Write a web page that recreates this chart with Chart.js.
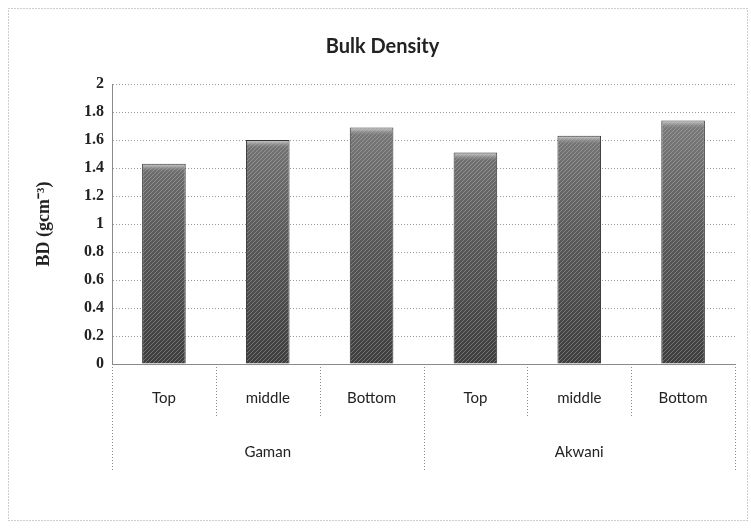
<!DOCTYPE html>
<html>
<head>
<meta charset="utf-8">
<script src="https://cdn.jsdelivr.net/npm/chart.js@4/dist/chart.umd.min.js"></script>
<style>
  html, body { margin: 0; padding: 0; background: #fff; }
  #wrap { width: 751px; height: 528px; }
</style>
</head>
<body>
<div id="wrap"><canvas id="bd-chart" width="751" height="528"></canvas></div>
<script>
// sampling depths and sites
const categories = ['Top', 'middle', 'Bottom', 'Top', 'middle', 'Bottom'];
const groups = ['Gaman', 'Akwani'];
const groupSize = 3;
// bulk density, g/cm3
const bulkDensity = [1.43, 1.60, 1.69, 1.51, 1.63, 1.74];
const yMin = 0, yMax = 2, yStep = 0.2;

// grey halftone-ish fill: darker at the base, diagonal hatch on top
function barFill(chart) {
  const area = chart.chartArea;
  if (!area) return '#707070';
  const tile = document.createElement('canvas');
  tile.width = 16;
  tile.height = chart.height;
  const t = tile.getContext('2d');
  const g = t.createLinearGradient(0, area.bottom, 0, area.top);
  g.addColorStop(0, '#3e3e3e');
  g.addColorStop(0.45, '#595959');
  g.addColorStop(1, '#858585');
  t.fillStyle = g;
  t.fillRect(0, 0, tile.width, tile.height);
  t.strokeStyle = 'rgba(210,210,210,0.35)';
  t.lineWidth = 1;
  for (let y = -16; y < tile.height + 16; y += 4) {
    t.beginPath();
    t.moveTo(0, y);
    t.lineTo(16, y - 16);
    t.stroke();
  }
  return chart.ctx.createPattern(tile, 'repeat');
}

// outer dotted frame, light caps on bars, grouped category axis
const frame = {
  id: 'frame',
  beforeDraw(chart) {
    const c = chart.ctx;
    c.save();
    c.fillStyle = '#fff';
    c.fillRect(0, 0, chart.width, chart.height);
    c.strokeStyle = '#9a9a9a';
    c.setLineDash([1, 2]);
    c.lineWidth = 1;
    c.strokeRect(8.5, 8.5, chart.width - 12, chart.height - 16);
    c.restore();
  },
  afterDatasetsDraw(chart) {
    const c = chart.ctx;
    c.save();
    chart.getDatasetMeta(0).data.forEach(bar => {
      const g = c.createLinearGradient(0, bar.y, 0, bar.y + 8);
      g.addColorStop(0, '#d8d8d8');
      g.addColorStop(1, 'rgba(140,140,140,0)');
      c.fillStyle = g;
      c.fillRect(bar.x - bar.width / 2 + 1, bar.y + 1, bar.width - 2, 8);
    });
    c.restore();
  },
  afterDraw(chart) {
    const x = chart.scales.x;
    const c = chart.ctx;
    const base = chart.chartArea.bottom;
    const half = (x.getPixelForValue(1) - x.getPixelForValue(0)) / 2;
    c.save();
    c.strokeStyle = '#8a8a8a';
    c.setLineDash([1, 2]);
    c.lineWidth = 1;
    for (let i = 0; i <= categories.length; i++) {
      const px = Math.round(x.getPixelForValue(i) - half) + 0.5;
      const outer = i % groupSize === 0;
      c.beginPath();
      c.moveTo(px, base);
      c.lineTo(px, outer ? base + 106 : base + 54);
      c.stroke();
    }
    c.setLineDash([]);
    c.fillStyle = '#222';
    c.font = '15px Lato';
    c.textAlign = 'center';
    c.textBaseline = 'middle';
    groups.forEach((name, gi) => {
      const a = x.getPixelForValue(gi * groupSize);
      const b = x.getPixelForValue(gi * groupSize + groupSize - 1);
      c.fillText(name, (a + b) / 2, base + 88);
    });
    c.restore();
  }
};

const ctx = document.getElementById('bd-chart').getContext('2d');
new Chart(ctx, {
  type: 'bar',
  data: {
    labels: categories,
    datasets: [{
      label: 'BD',
      data: bulkDensity,
      backgroundColor: c => barFill(c.chart),
      borderColor: '#333',
      borderWidth: 1,
      categoryPercentage: 1,
      barPercentage: 0.42
    }]
  },
  options: {
    responsive: false,
    animation: false,
    layout: { padding: { left: 30, right: 16, top: 0, bottom: 4 } },
    plugins: {
      legend: { display: false },
      tooltip: { enabled: false },
      title: {
        display: true,
        text: 'Bulk Density',
        color: '#222',
        font: { family: 'Lato', size: 20, weight: 'bold' },
        padding: { top: 35, bottom: 25 }
      }
    },
    scales: {
      x: {
        grid: { display: false },
        border: { display: true, color: '#8a8a8a', dash: [1, 2] },
        ticks: {
          color: '#222',
          font: { family: 'Lato', size: 15 },
          padding: 17,
          maxRotation: 0
        },
        afterFit(scale) { scale.height = 160; }
      },
      y: {
        min: yMin,
        max: yMax,
        ticks: {
          stepSize: yStep,
          color: '#222',
          padding: 8,
          font: { family: 'Liberation Serif', size: 16, weight: 'bold' },
          callback: v => String(+v.toFixed(1))
        },
        grid: { color: '#9a9a9a', drawTicks: false },
        border: { display: true, color: '#8a8a8a', dash: [1, 2] },
        title: {
          display: true,
          text: 'BD (gcm⁻³)',
          color: '#222',
          font: { family: 'Liberation Serif', size: 18, weight: 'bold' },
          padding: { bottom: 6 }
        },
        afterFit(scale) { scale.width = 82; }
      }
    }
  },
  plugins: [frame]
});
</script>
</body>
</html>
